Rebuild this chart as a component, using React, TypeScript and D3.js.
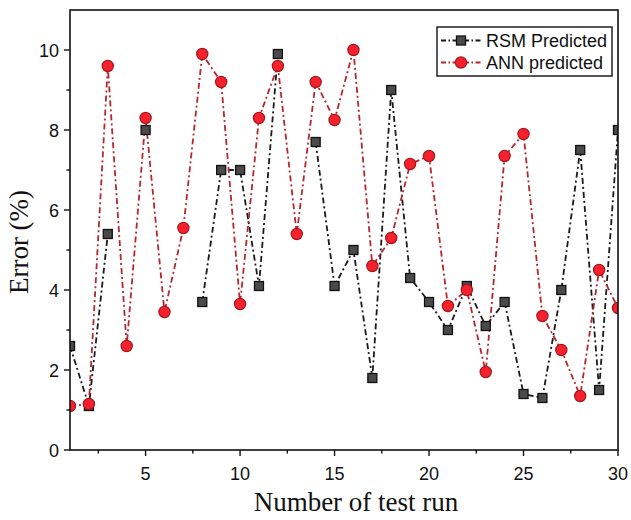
import React from "react";
import * as d3 from "d3";

const runs = [1, 2, 3, 4, 5, 6, 7, 8, 9, 10, 11, 12, 13, 14, 15, 16, 17, 18, 19, 20, 21, 22, 23, 24, 25, 26, 27, 28, 29, 30];
const rsmPredicted: (number | null)[] = [2.6, 1.1, 5.4, null, 8.0, null, null, 3.7, 7.0, 7.0, 4.1, 9.9, null, 7.7, 4.1, 5.0, 1.8, 9.0, 4.3, 3.7, 3.0, 4.1, 3.1, 3.7, 1.4, 1.3, 4.0, 7.5, 1.5, 8.0];
const annPredicted: number[] = [1.1, 1.15, 9.6, 2.6, 8.3, 3.45, 5.55, 9.9, 9.2, 3.65, 8.3, 9.6, 5.4, 9.2, 8.25, 10.0, 4.6, 5.3, 7.15, 7.35, 3.6, 4.0, 1.95, 7.35, 7.9, 3.35, 2.5, 1.35, 4.5, 3.55];
const xTicks = [5, 10, 15, 20, 25, 30];
const xMinorTicks = [2.5, 7.5, 12.5, 17.5, 22.5, 27.5];
const yTicks = [0, 2, 4, 6, 8, 10];
const yMinorTicks = [1, 3, 5, 7, 9];
const seriesNames = ["RSM Predicted", "ANN predicted"];

const W = 631, H = 520;
const L = 70, R = 618, T = 10, B = 450;

export default function App() {
  const x = d3.scaleLinear().domain([1, 30]).range([L, R]);
  const y = d3.scaleLinear().domain([0, 11]).range([B, T]);
  const line = d3
    .line<number | null>()
    .defined((d) => d != null)
    .x((_, i) => x(runs[i]))
    .y((d) => y(d as number));

  const dash = "6,3,2,3";
  const blackLine = "#1a1a1a";
  const redLine = "#b5262e";
  const sq = 9;
  const tickFont = "Liberation Sans, Arial, sans-serif";
  const titleFont = "Liberation Serif, Times New Roman, serif";

  return (
    <svg width={W} height={H} style={{ position: "absolute", left: 0, top: 0, background: "#fff" }}>
      <defs>
        <clipPath id="plotclip">
          <rect x={L} y={T} width={R - L} height={B - T} />
        </clipPath>
      </defs>
      <rect x={0} y={0} width={W} height={H} fill="#fff" />
      <g clipPath="url(#plotclip)">
        <path d={line(rsmPredicted) || ""} fill="none" stroke={blackLine} strokeWidth={1.8} strokeDasharray={dash} />
        <path d={line(annPredicted) || ""} fill="none" stroke={redLine} strokeWidth={1.8} strokeDasharray={dash} />
        {rsmPredicted.map((v, i) =>
          v == null ? null : (
            <rect key={"s" + i} x={x(runs[i]) - sq / 2} y={y(v) - sq / 2} width={sq} height={sq} fill="#4a4a4a" stroke="#111" strokeWidth={1.3} />
          )
        )}
        {annPredicted.map((v, i) => (
          <circle key={"c" + i} cx={x(runs[i])} cy={y(v)} r={5.6} fill="#f5222d" stroke="#a8141c" strokeWidth={1.2} />
        ))}
      </g>
      <rect x={L} y={T} width={R - L} height={B - T} fill="none" stroke="#111" strokeWidth={1.6} />
      {xTicks.map((t) => (
        <g key={"xt" + t}>
          <line x1={x(t)} x2={x(t)} y1={B} y2={B + 6} stroke="#111" strokeWidth={1.4} />
          <text x={x(t)} y={B + 30} textAnchor="middle" fontFamily={tickFont} fontSize={18} fill="#111">{t}</text>
        </g>
      ))}
      {xMinorTicks.map((t) => (
        <line key={"xm" + t} x1={x(t)} x2={x(t)} y1={B} y2={B + 3.5} stroke="#111" strokeWidth={1.4} />
      ))}
      {yTicks.map((t) => (
        <g key={"yt" + t}>
          <line x1={L - 6} x2={L} y1={y(t)} y2={y(t)} stroke="#111" strokeWidth={1.4} />
          <text x={L - 11} y={y(t) + 6.5} textAnchor="end" fontFamily={tickFont} fontSize={18} fill="#111">{t}</text>
        </g>
      ))}
      {yMinorTicks.map((t) => (
        <line key={"ym" + t} x1={L - 3.5} x2={L} y1={y(t)} y2={y(t)} stroke="#111" strokeWidth={1.4} />
      ))}
      <text x={356} y={511} textAnchor="middle" fontFamily={titleFont} fontSize={27} fill="#111">Number of test run</text>
      <text transform={`translate(28, 242) rotate(-90)`} textAnchor="middle" fontFamily={titleFont} fontSize={27} fill="#111">Error (%)</text>
      <g>
        <rect x={437} y={27} width={175} height={49} fill="#fff" stroke="#111" strokeWidth={1.4} />
        {seriesNames.map((name, i) => {
          const cy = 40.5 + i * 22;
          return (
            <g key={name}>
              <line x1={441} x2={482} y1={cy} y2={cy} stroke={i === 0 ? blackLine : redLine} strokeWidth={1.8} strokeDasharray="5,2.5,1.5,2.5" />
              {i === 0 ? (
                <rect x={461 - sq / 2} y={cy - sq / 2} width={sq} height={sq} fill="#4a4a4a" stroke="#111" strokeWidth={1.3} />
              ) : (
                <circle cx={461} cy={cy} r={5.6} fill="#f5222d" stroke="#a8141c" strokeWidth={1.2} />
              )}
              <text x={486} y={cy + 6.5} fontFamily={tickFont} fontSize={18} fill="#111">{name}</text>
            </g>
          );
        })}
      </g>
    </svg>
  );
}
